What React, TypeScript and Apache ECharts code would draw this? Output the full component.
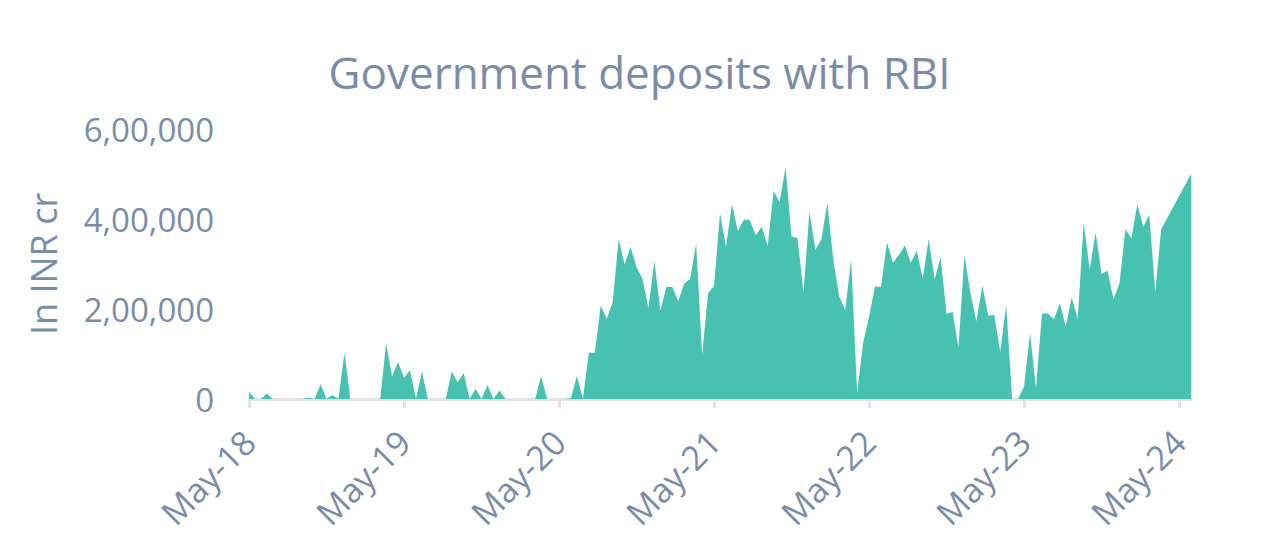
import { useEffect, useRef } from "react";
import * as echarts from "echarts";

// fortnightly values, May 2018 onwards (INR crore)
const DEPOSITS: (number | null)[] = [
  16000, 0, 0, 12000, 0, 0, 0, 0, 0, 0,
  3000, 0, 33000, 0, 9000, 0, 103000, 0, 0, 0,
  0, 0, 0, 124000, 50000, 82000, 47000, 64000, 0, 61000,
  0, 0, 0, 0, 61000, 37000, 58000, 0, 22000, 0,
  31000, 0, 19000, 0, 0, 0, 0, 0, 0, 51000,
  0, 0, 0, 0, 2000, 51000, 0, 103000, 103000, 207000,
  178000, 216000, 355000, 299000, 338000, 293000, 267000, 202000, 307000, 196000,
  249000, 249000, 217000, 256000, 267000, 346000, 98000, 235000, 251000, 413000,
  338000, 433000, 373000, 399000, 398000, 364000, 383000, 340000, 462000, 438000,
  515000, 361000, 358000, 237000, 416000, 331000, 355000, 435000, 309000, 227000,
  198000, 310000, 13000, 124000, 183000, 250000, 249000, 348000, 303000, 320000,
  341000, 303000, 330000, 268000, 355000, 266000, 315000, 189000, 194000, 115000,
  320000, 235000, 173000, 252000, 185000, 187000, 104000, 209000, 0, 0,
  27000, 146000, 24000, 190000, 190000, 177000, 213000, 161000, 226000, 177000,
  392000, 287000, 370000, 278000, 285000, 221000, 257000, 377000, 357000, 433000,
  383000, 409000, 238000, 377000, null, null, null, null, 500000,
];

const X_TICK_LABELS = ["May-18", "May-19", "May-20", "May-21", "May-22", "May-23", "May-24"];
const Y_TICKS = [0, 200000, 400000, 600000];

const TEXT_COLOR = "#7b8ca9";
const FONT = "'Open Sans', 'Noto Sans', sans-serif";

// one category per fortnight, starting 4 May 2018
const DATES = DEPOSITS.map((_, i) => {
  const d = new Date(Date.UTC(2018, 4, 4 + i * 14));
  return d.toISOString().slice(0, 10);
});

// Indian digit grouping: 6,00,000
function inr(v: number): string {
  const s = String(Math.round(v));
  if (s.length <= 3) return s;
  const last = s.slice(-3);
  const rest = s.slice(0, -3).replace(/\B(?=(\d{2})+(?!\d))/g, ",");
  return rest + "," + last;
}

export default function App() {
  const chartRef = useRef<HTMLDivElement>(null);

  useEffect(() => {
    if (!chartRef.current) return;
    const chart = echarts.init(chartRef.current, null, { renderer: "svg" });

    chart.setOption({
      animation: false,
      backgroundColor: "#ffffff",
      title: {
        text: "Government deposits with RBI",
        left: "center",
        top: 45,
        textStyle: { color: TEXT_COLOR, fontFamily: FONT, fontSize: 44, fontWeight: "normal" },
      },
      grid: { left: 249, right: 88, top: 129, bottom: 160 },
      xAxis: {
        type: "category",
        data: DATES,
        boundaryGap: false,
        axisLine: { lineStyle: { color: "#dfe3ea", width: 3 } },
        axisTick: {
          interval: 25,
          length: 9,
          lineStyle: { color: "#dfe3ea", width: 3 },
        },
        axisLabel: {
          interval: 25,
          rotate: 45,
          margin: 37,
          color: TEXT_COLOR,
          fontFamily: FONT,
          fontSize: 34,
          formatter: (_v: string, idx: number) => X_TICK_LABELS[Math.round(idx / 26)] ?? "",
        },
        splitLine: { show: false },
      },
      yAxis: {
        type: "value",
        min: Y_TICKS[0],
        max: Y_TICKS[Y_TICKS.length - 1],
        interval: 200000,
        name: "In INR cr",
        nameLocation: "middle",
        nameGap: 188,
        nameTextStyle: { color: TEXT_COLOR, fontFamily: FONT, fontSize: 36 },
        axisLine: { show: false },
        axisTick: { show: false },
        splitLine: { show: false },
        axisLabel: {
          margin: 35,
          color: TEXT_COLOR,
          fontFamily: FONT,
          fontSize: 33,
          formatter: (v: number) => inr(v),
        },
      },
      series: [
        {
          name: "Government deposits",
          type: "line",
          data: DEPOSITS,
          connectNulls: true,
          showSymbol: false,
          symbol: "none",
          lineStyle: { width: 0 },
          areaStyle: { color: "#48c2b0", opacity: 1 },
          itemStyle: { color: "#48c2b0" },
        },
      ],
    });

    return () => chart.dispose();
  }, []);

  return (
    <div
      ref={chartRef}
      style={{ position: "fixed", left: 0, top: 0, width: "1279px", height: "559px" }}
    />
  );
}
